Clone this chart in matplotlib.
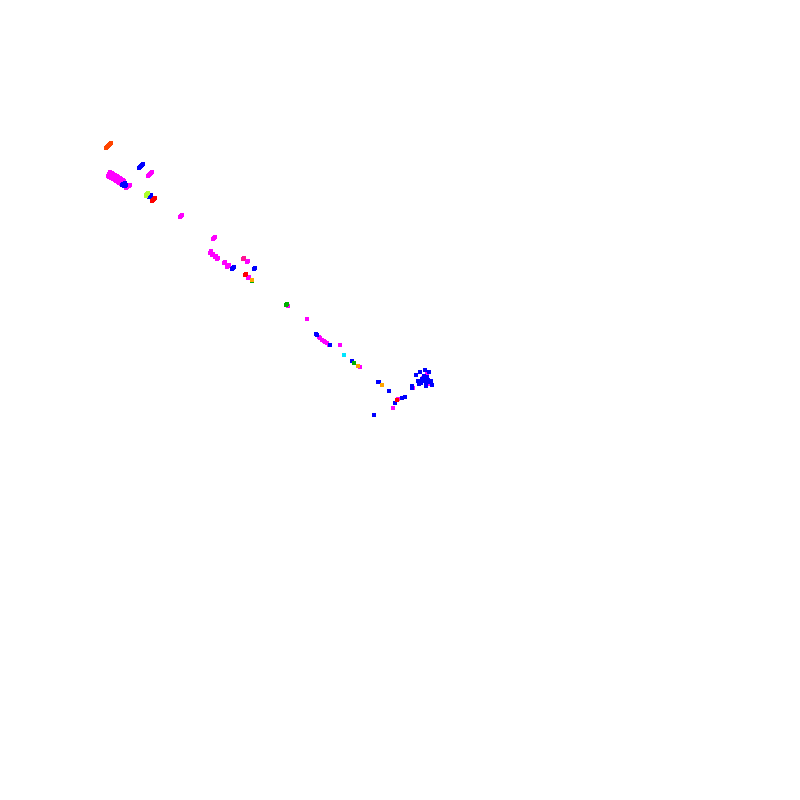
import matplotlib
matplotlib.use("Agg")
import matplotlib.pyplot as plt

# point positions (x, y in picture units, y downwards)
orangered_pts = [(106,148),(107,147),(108,146),(109,145),(110,144),(111,143)]
blue_pts = [(139,168),(140,167),(141,166),(142,165),(143,164),
            (123,184),(125,183),(126,185),(124,186),(122,185),(125,186),
            (149,197),(150,196),(151,195),
            (232,269),(233,268),(234,267),(254,269),(255,268),
            (316,334),(317,335),(330,345),(352,361),
            (378,382),(379,382),(389,391),(402,398),(405,397),(395,403),(374,415),
            (420,372),(425,370),(429,372),(422,379),(423,381),(425,379),(426,383),
            (428,380),(430,382),(431,381),(421,383),(412,386),(412,388),(418,381),
            (424,376),(427,377),(419,384),(432,385),(426,386),(416,375)]
magenta_pts = [(148,176),(149,175),(150,174),(151,173),(152,172),
               (109,174),(110,175),(111,175),(112,176),(113,176),(114,177),(115,177),(116,178),
               (117,179),(118,179),(119,180),(120,181),(121,181),(122,182),(123,183),
               (110,172),(111,173),(112,173),(113,174),(114,175),(115,175),(116,176),(117,176),
               (118,177),(119,178),(120,178),(121,179),(122,180),(123,180),(124,181),
               (108,176),(109,177),(110,177),(111,178),(112,178),(113,179),(114,179),(115,180),
               (116,181),(117,181),(118,182),(119,183),(120,183),(121,184),
               (126,188),(127,187),(128,186),(129,186),(130,185),
               (180,217),(181,216),(182,215),
               (213,239),(214,238),(215,237),
               (210,253),(211,251),(212,255),(213,254),(215,257),(216,256),(217,259),(218,258),
               (224,263),(225,262),(227,267),(228,266),(229,265),
               (247,262),(248,261),(248,278),(249,277),(288,306),(307,319),
               (319,337),(320,338),(322,340),(324,341),(325,342),(327,343),(329,345),
               (340,345),(360,367),(398,399),(393,408),
               (427,373),(423,378),(413,388),(429,384),(431,383)]
red_pts = [(152,201),(153,200),(154,199),(155,198),(245,275),(246,274),(397,400)]
deeppink_pts = [(243,259),(244,258)]
yellowgreen_pts = [(146,195),(147,194),(148,193),(146,196)]
green_pts = [(252,281),(286,305),(287,304),(354,363)]
orange_pts = [(252,280),(358,366),(382,385)]
cyan_pts = [(344,355)]

groups = [
    (magenta_pts, "#ff00ff"),
    (blue_pts, "#0000ff"),
    (orangered_pts, "#ff4500"),
    (red_pts, "#ff0000"),
    (deeppink_pts, "#ff1493"),
    (yellowgreen_pts, "#adff2f"),
    (green_pts, "#00b000"),
    (orange_pts, "#ffa500"),
    (cyan_pts, "#00e5ff"),
]

fig = plt.figure(figsize=(8, 8), dpi=100)
ax = fig.add_axes([0, 0, 1, 1])
for pts, col in groups:
    xs = [p[0] for p in pts]
    ys = [p[1] for p in pts]
    ax.scatter(xs, ys, s=5, marker="s", c=col, linewidths=0)
ax.set_xlim(0, 800)
ax.set_ylim(800, 0)
ax.axis("off")
fig.savefig("out.png", dpi=100, facecolor="white")
